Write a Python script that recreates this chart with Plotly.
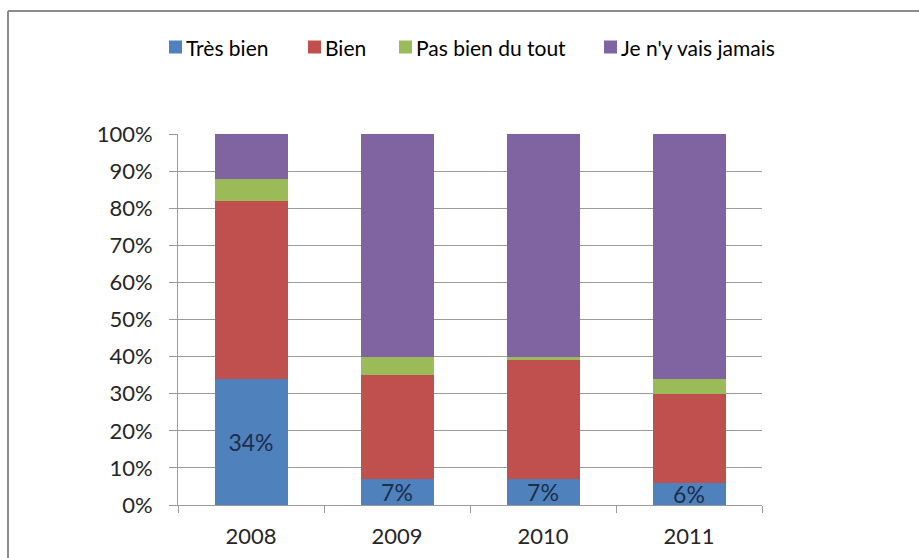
import plotly.graph_objects as go

# Survey results per year (share of respondents, %)
years = ["2008", "2009", "2010", "2011"]
tres_bien = [34, 7, 7, 6]
bien = [48, 28, 32, 24]
pas_bien = [6, 5, 1, 4]
jamais = [12, 60, 60, 66]

series_names = ["Très bien", "Bien", "Pas bien du tout", "Je n'y vais jamais"]
series_values = [tres_bien, bien, pas_bien, jamais]
series_colors = ["#4F81BD", "#C0504D", "#9BBB59", "#8064A2"]

W, H = 919, 558
ML, MR, MT, MB = 178, 157, 134, 53
PW, PH = W - ML - MR, H - MT - MB
FONT = "Lato"


def px_x(x):
    return (x - ML) / PW


def px_y(y):
    return (H - MB - y) / PH


fig = go.Figure()
for i, (name, vals, col) in enumerate(zip(series_names, series_values, series_colors)):
    fig.add_trace(go.Bar(
        x=years,
        y=vals,
        name=name,
        marker=dict(color=col, line=dict(width=0)),
        width=0.5,
        text=[f"{v}%" for v in vals] if i == 0 else None,
        textposition="inside" if i == 0 else "none",
        insidetextanchor="middle",
        constraintext="none",
        textfont=dict(family=FONT, size=23, color="#1B2F4A"),
        showlegend=False,
    ))

# Legend drawn as swatches + labels
legend_swatch_x = [169, 308, 399, 604]
legend_y = 47
sw = 13
for name, col, sx in zip(series_names, series_colors, legend_swatch_x):
    fig.add_shape(
        type="rect", xref="paper", yref="paper",
        x0=px_x(sx), x1=px_x(sx + sw),
        y0=px_y(legend_y + sw / 2), y1=px_y(legend_y - sw / 2),
        fillcolor=col, line=dict(width=0), layer="above",
    )
    fig.add_annotation(
        xref="paper", yref="paper", x=px_x(sx + sw + 2), y=px_y(legend_y),
        text=name, showarrow=False, xanchor="left", yanchor="middle",
        font=dict(family=FONT, size=21, color="#000000"),
    )

# Chart frame (top and left edges)
frame_col = "#8C8C8C"
fig.add_shape(type="line", xref="paper", yref="paper",
              x0=px_x(8), x1=px_x(W + 5), y0=px_y(11), y1=px_y(11),
              line=dict(color=frame_col, width=2))
fig.add_shape(type="line", xref="paper", yref="paper",
              x0=px_x(8), x1=px_x(8), y0=px_y(11), y1=px_y(H + 5),
              line=dict(color=frame_col, width=2))

axis_col = "#9A9A9A"
fig.update_layout(
    width=W, height=H,
    margin=dict(l=ML, r=MR, t=MT, b=MB),
    barmode="stack",
    paper_bgcolor="white",
    plot_bgcolor="white",
    font=dict(family=FONT, color="#262626"),
    xaxis=dict(
        type="category",
        automargin=False,
        tickson="boundaries",
        ticks="outside", ticklen=7, tickcolor=axis_col, tickwidth=1,
        showline=True, linecolor=axis_col, linewidth=1,
        showgrid=False,
        tickfont=dict(family=FONT, size=22, color="#262626"),
        ticklabelstandoff=12,
    ),
    yaxis=dict(
        range=[0, 100],
        automargin=False,
        tickvals=[0, 10, 20, 30, 40, 50, 60, 70, 80, 90, 100],
        ticktext=[f"{v}%" for v in range(0, 101, 10)],
        ticks="outside", ticklen=8, tickcolor=axis_col, tickwidth=1,
        showline=True, linecolor=axis_col, linewidth=1,
        showgrid=True, gridcolor=axis_col, gridwidth=1,
        zeroline=False,
        tickfont=dict(family=FONT, size=22, color="#262626"),
        ticklabelstandoff=12,
    ),
)

fig.write_html("out.html")
